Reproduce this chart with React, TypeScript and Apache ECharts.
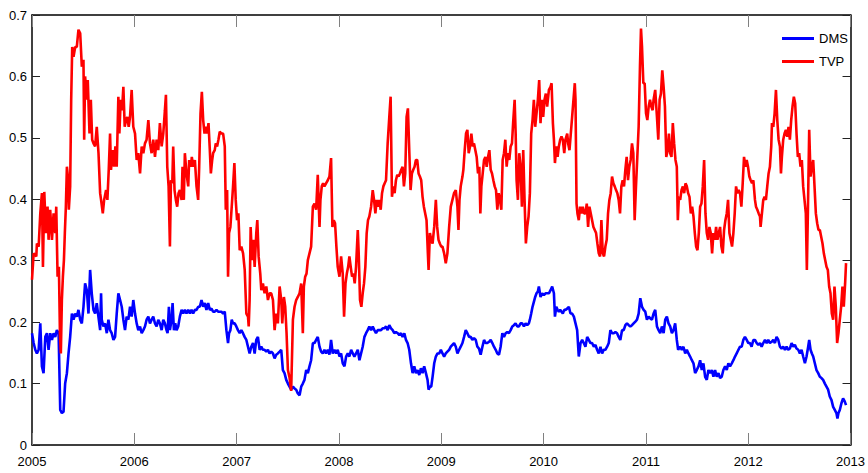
import React, { useEffect, useRef } from "react";
import * as echarts from "echarts";

const YEAR_TICKS = [2005, 2006, 2007, 2008, 2009, 2010, 2011, 2012, 2013];
const VALUE_TICKS = [0, 0.1, 0.2, 0.3, 0.4, 0.5, 0.6, 0.7];
const SERIES_NAMES = ["DMS", "TVP"];
const SERIES_COLORS = ["#0000ff", "#ff0000"];

const DMS: [number, number][] = [
  [2005.000,0.182],[2005.016,0.166],[2005.032,0.155],[2005.048,0.149],[2005.065,0.155],[2005.081,0.198],[2005.097,0.128],[2005.113,0.117],[2005.130,0.176],[2005.146,0.182],[2005.162,0.155],[2005.178,0.182],[2005.195,0.171],[2005.211,0.182],[2005.227,0.176],[2005.243,0.187],[2005.260,0.182],[2005.276,0.057],[2005.292,0.052],[2005.308,0.054],[2005.324,0.100],[2005.341,0.117],[2005.357,0.149],[2005.373,0.176],[2005.390,0.214],[2005.406,0.204],[2005.422,0.214],[2005.438,0.209],[2005.454,0.220],[2005.471,0.204],[2005.487,0.198],[2005.503,0.225],[2005.519,0.263],[2005.536,0.252],[2005.552,0.214],[2005.568,0.285],[2005.584,0.247],[2005.601,0.220],[2005.617,0.214],[2005.633,0.231],[2005.649,0.209],[2005.666,0.187],[2005.675,0.247],[2005.682,0.204],[2005.698,0.193],[2005.714,0.198],[2005.731,0.182],[2005.747,0.204],[2005.763,0.187],[2005.779,0.182],[2005.796,0.171],[2005.812,0.176],[2005.828,0.214],[2005.844,0.247],[2005.861,0.236],[2005.877,0.225],[2005.893,0.204],[2005.909,0.187],[2005.925,0.209],[2005.942,0.204],
  [2005.958,0.225],[2005.974,0.209],[2005.990,0.236],[2006.007,0.214],[2006.023,0.198],[2006.039,0.187],[2006.056,0.193],[2006.072,0.182],[2006.088,0.187],[2006.104,0.193],[2006.120,0.204],[2006.137,0.209],[2006.153,0.198],[2006.169,0.204],[2006.185,0.209],[2006.202,0.198],[2006.218,0.193],[2006.234,0.204],[2006.250,0.198],[2006.267,0.187],[2006.283,0.204],[2006.299,0.198],[2006.315,0.187],[2006.325,0.182],[2006.338,0.225],[2006.348,0.187],[2006.364,0.204],[2006.374,0.231],[2006.387,0.187],[2006.400,0.198],[2006.413,0.187],[2006.429,0.193],[2006.445,0.209],[2006.462,0.220],[2006.478,0.214],[2006.494,0.220],[2006.510,0.214],[2006.527,0.220],[2006.543,0.214],[2006.559,0.220],[2006.575,0.214],[2006.592,0.220],[2006.608,0.220],[2006.624,0.225],[2006.640,0.225],[2006.657,0.236],[2006.673,0.225],[2006.689,0.231],[2006.705,0.220],[2006.722,0.231],[2006.738,0.220],[2006.754,0.222],[2006.770,0.217],[2006.786,0.217],[2006.803,0.220],[2006.819,0.217],[2006.835,0.217],[2006.851,0.217],[2006.868,0.214],[2006.884,0.217],[2006.900,0.187],[2006.916,0.166],[2006.926,0.182],[2006.939,0.187],[2006.952,0.204],[2006.965,0.198],
  [2006.981,0.198],[2006.997,0.193],[2007.013,0.187],[2007.030,0.182],[2007.046,0.187],[2007.062,0.182],[2007.078,0.176],[2007.095,0.171],[2007.111,0.160],[2007.127,0.149],[2007.143,0.160],[2007.160,0.166],[2007.176,0.149],[2007.192,0.171],[2007.208,0.176],[2007.225,0.155],[2007.241,0.160],[2007.257,0.155],[2007.273,0.155],[2007.290,0.152],[2007.306,0.155],[2007.322,0.149],[2007.338,0.152],[2007.355,0.149],[2007.371,0.141],[2007.387,0.147],[2007.403,0.149],[2007.420,0.152],[2007.436,0.155],[2007.452,0.122],[2007.468,0.117],[2007.485,0.106],[2007.501,0.100],[2007.517,0.095],[2007.533,0.090],[2007.550,0.095],[2007.566,0.092],[2007.582,0.090],[2007.598,0.084],[2007.615,0.081],[2007.631,0.095],[2007.647,0.100],[2007.663,0.106],[2007.680,0.122],[2007.696,0.117],[2007.712,0.128],[2007.728,0.138],[2007.745,0.166],[2007.761,0.166],[2007.777,0.171],[2007.793,0.176],[2007.810,0.160],[2007.826,0.152],[2007.842,0.149],[2007.858,0.155],[2007.874,0.149],[2007.891,0.155],[2007.907,0.147],[2007.923,0.171],[2007.939,0.149],[2007.956,0.155],[2007.972,0.149],[2007.988,0.155],
  [2008.005,0.144],[2008.021,0.149],[2008.037,0.133],[2008.054,0.128],[2008.070,0.144],[2008.086,0.149],[2008.102,0.144],[2008.119,0.155],[2008.135,0.149],[2008.151,0.144],[2008.167,0.149],[2008.184,0.155],[2008.200,0.138],[2008.216,0.149],[2008.232,0.160],[2008.249,0.176],[2008.265,0.182],[2008.281,0.187],[2008.297,0.193],[2008.314,0.187],[2008.330,0.193],[2008.346,0.187],[2008.362,0.182],[2008.379,0.187],[2008.395,0.187],[2008.411,0.187],[2008.427,0.190],[2008.444,0.190],[2008.460,0.193],[2008.476,0.187],[2008.492,0.195],[2008.509,0.190],[2008.525,0.187],[2008.541,0.182],[2008.557,0.184],[2008.574,0.182],[2008.590,0.179],[2008.606,0.182],[2008.622,0.176],[2008.639,0.182],[2008.655,0.171],[2008.671,0.166],[2008.687,0.155],[2008.704,0.133],[2008.720,0.117],[2008.736,0.128],[2008.752,0.117],[2008.769,0.122],[2008.785,0.114],[2008.801,0.125],[2008.817,0.117],[2008.833,0.128],[2008.850,0.117],[2008.866,0.106],[2008.876,0.090],[2008.889,0.095],[2008.902,0.095],[2008.915,0.111],[2008.931,0.133],[2008.947,0.144],[2008.963,0.149],[2008.980,0.149],[2008.996,0.155],[2009.012,0.149],
  [2009.028,0.144],[2009.044,0.149],[2009.060,0.152],[2009.077,0.155],[2009.093,0.160],[2009.109,0.163],[2009.125,0.166],[2009.142,0.160],[2009.158,0.149],[2009.174,0.155],[2009.190,0.160],[2009.207,0.166],[2009.223,0.176],[2009.239,0.187],[2009.255,0.182],[2009.272,0.176],[2009.288,0.176],[2009.304,0.171],[2009.320,0.174],[2009.337,0.171],[2009.353,0.160],[2009.369,0.157],[2009.385,0.147],[2009.402,0.160],[2009.418,0.171],[2009.434,0.166],[2009.450,0.166],[2009.467,0.168],[2009.483,0.171],[2009.499,0.166],[2009.515,0.160],[2009.532,0.155],[2009.548,0.149],[2009.564,0.147],[2009.580,0.160],[2009.597,0.182],[2009.613,0.176],[2009.629,0.182],[2009.645,0.184],[2009.661,0.182],[2009.678,0.187],[2009.694,0.193],[2009.710,0.195],[2009.726,0.198],[2009.743,0.193],[2009.759,0.193],[2009.775,0.198],[2009.791,0.198],[2009.808,0.193],[2009.824,0.198],[2009.840,0.195],[2009.856,0.198],[2009.866,0.204],[2009.879,0.214],[2009.892,0.225],[2009.905,0.233],[2009.918,0.241],[2009.931,0.247],[2009.944,0.250],[2009.954,0.258],[2009.970,0.241],[2009.986,0.247],[2010.003,0.244],[2010.019,0.247],[2010.035,0.247],
  [2010.052,0.247],[2010.068,0.252],[2010.084,0.258],[2010.101,0.247],[2010.111,0.209],[2010.124,0.225],[2010.137,0.220],[2010.149,0.217],[2010.162,0.220],[2010.175,0.217],[2010.188,0.214],[2010.202,0.220],[2010.214,0.220],[2010.231,0.222],[2010.247,0.225],[2010.263,0.214],[2010.279,0.214],[2010.296,0.209],[2010.312,0.198],[2010.328,0.187],[2010.344,0.144],[2010.361,0.166],[2010.377,0.171],[2010.393,0.166],[2010.409,0.160],[2010.426,0.176],[2010.442,0.171],[2010.458,0.166],[2010.474,0.166],[2010.491,0.160],[2010.507,0.163],[2010.523,0.155],[2010.539,0.149],[2010.556,0.160],[2010.572,0.149],[2010.588,0.155],[2010.604,0.155],[2010.621,0.160],[2010.637,0.166],[2010.653,0.187],[2010.669,0.182],[2010.686,0.182],[2010.702,0.184],[2010.718,0.182],[2010.734,0.176],[2010.750,0.171],[2010.767,0.187],[2010.783,0.187],[2010.799,0.195],[2010.815,0.198],[2010.832,0.195],[2010.848,0.193],[2010.864,0.195],[2010.880,0.198],[2010.897,0.201],[2010.913,0.204],[2010.929,0.214],[2010.945,0.239],[2010.962,0.225],[2010.978,0.220],[2010.994,0.217],[2011.010,0.204],[2011.027,0.209],[2011.043,0.206],[2011.059,0.204],
  [2011.075,0.214],[2011.091,0.220],[2011.108,0.193],[2011.124,0.187],[2011.140,0.182],[2011.156,0.193],[2011.173,0.182],[2011.189,0.204],[2011.205,0.209],[2011.221,0.198],[2011.237,0.193],[2011.254,0.182],[2011.270,0.187],[2011.286,0.198],[2011.302,0.171],[2011.315,0.155],[2011.335,0.160],[2011.351,0.155],[2011.367,0.160],[2011.384,0.149],[2011.400,0.155],[2011.416,0.149],[2011.432,0.144],[2011.449,0.138],[2011.465,0.133],[2011.481,0.117],[2011.497,0.122],[2011.514,0.128],[2011.530,0.138],[2011.546,0.122],[2011.562,0.133],[2011.579,0.111],[2011.595,0.106],[2011.611,0.122],[2011.627,0.117],[2011.644,0.122],[2011.660,0.111],[2011.676,0.122],[2011.692,0.111],[2011.709,0.117],[2011.725,0.109],[2011.741,0.111],[2011.757,0.122],[2011.774,0.128],[2011.790,0.122],[2011.806,0.133],[2011.822,0.128],[2011.839,0.133],[2011.855,0.138],[2011.871,0.144],[2011.887,0.149],[2011.904,0.155],[2011.920,0.160],[2011.936,0.160],[2011.952,0.171],[2011.968,0.176],[2011.985,0.171],[2012.001,0.166],[2012.017,0.166],[2012.033,0.160],
  [2012.050,0.171],[2012.066,0.171],[2012.083,0.166],[2012.099,0.163],[2012.115,0.166],[2012.131,0.160],[2012.147,0.166],[2012.164,0.171],[2012.180,0.166],[2012.196,0.171],[2012.212,0.166],[2012.229,0.168],[2012.245,0.171],[2012.261,0.166],[2012.277,0.176],[2012.294,0.171],[2012.310,0.160],[2012.326,0.157],[2012.342,0.160],[2012.359,0.155],[2012.375,0.160],[2012.391,0.155],[2012.407,0.157],[2012.424,0.166],[2012.440,0.160],[2012.456,0.163],[2012.472,0.157],[2012.489,0.155],[2012.505,0.149],[2012.521,0.155],[2012.537,0.144],[2012.554,0.133],[2012.570,0.144],[2012.586,0.160],[2012.596,0.171],[2012.609,0.155],[2012.622,0.149],[2012.635,0.144],[2012.651,0.133],[2012.667,0.122],[2012.684,0.117],[2012.700,0.111],[2012.716,0.109],[2012.732,0.106],[2012.749,0.100],[2012.765,0.095],[2012.781,0.090],[2012.797,0.079],[2012.814,0.073],[2012.830,0.062],[2012.846,0.057],[2012.862,0.052],[2012.872,0.043],[2012.882,0.052],[2012.895,0.057],[2012.911,0.068],[2012.927,0.076],[2012.943,0.071],[2012.956,0.065],
];

const TVP: [number, number][] = [
  [2005.000,0.269],[2005.016,0.312],[2005.032,0.309],[2005.042,0.307],[2005.048,0.328],[2005.065,0.323],[2005.081,0.377],[2005.097,0.410],[2005.107,0.290],[2005.120,0.412],[2005.136,0.345],[2005.152,0.388],[2005.162,0.334],[2005.178,0.383],[2005.195,0.334],[2005.211,0.377],[2005.227,0.345],[2005.237,0.388],[2005.250,0.274],[2005.263,0.290],[2005.273,0.182],[2005.282,0.149],[2005.292,0.236],[2005.302,0.274],[2005.312,0.301],[2005.321,0.345],[2005.331,0.388],[2005.341,0.453],[2005.351,0.437],[2005.360,0.383],[2005.373,0.421],[2005.383,0.562],[2005.393,0.648],[2005.406,0.632],[2005.422,0.648],[2005.438,0.648],[2005.454,0.676],[2005.471,0.670],[2005.487,0.616],[2005.503,0.627],[2005.510,0.497],[2005.519,0.600],[2005.536,0.562],[2005.545,0.594],[2005.562,0.507],[2005.575,0.562],[2005.588,0.497],[2005.601,0.491],[2005.617,0.486],[2005.633,0.518],[2005.650,0.475],[2005.666,0.410],[2005.675,0.399],[2005.692,0.377],[2005.705,0.399],[2005.724,0.415],[2005.737,0.399],[2005.750,0.448],[2005.763,0.507],[2005.772,0.448],[2005.789,0.480],[2005.802,0.453],[2005.815,0.486],[2005.828,0.453],[2005.844,0.567],[2005.854,0.507],[2005.867,0.562],[2005.880,0.545],[2005.893,0.583],[2005.906,0.518],[2005.919,0.529],[2005.932,0.534],[2005.945,0.518],
  [2005.958,0.534],[2005.974,0.578],[2005.990,0.518],[2006.007,0.507],[2006.023,0.464],[2006.039,0.475],[2006.056,0.442],[2006.072,0.486],[2006.088,0.475],[2006.104,0.491],[2006.120,0.497],[2006.137,0.529],[2006.153,0.491],[2006.169,0.475],[2006.185,0.497],[2006.202,0.469],[2006.218,0.497],[2006.234,0.480],[2006.250,0.524],[2006.267,0.486],[2006.283,0.507],[2006.299,0.545],[2006.309,0.570],[2006.322,0.453],[2006.335,0.421],[2006.348,0.323],[2006.358,0.431],[2006.371,0.426],[2006.380,0.486],[2006.393,0.415],[2006.406,0.399],[2006.419,0.388],[2006.432,0.410],[2006.445,0.415],[2006.462,0.399],[2006.471,0.453],[2006.484,0.399],[2006.494,0.475],[2006.510,0.442],[2006.527,0.421],[2006.536,0.464],[2006.553,0.453],[2006.562,0.469],[2006.575,0.453],[2006.592,0.464],[2006.608,0.421],[2006.624,0.399],[2006.634,0.453],[2006.647,0.540],[2006.660,0.575],[2006.673,0.529],[2006.686,0.507],[2006.699,0.518],[2006.712,0.507],[2006.725,0.524],[2006.738,0.480],[2006.748,0.442],[2006.761,0.464],[2006.770,0.475],[2006.786,0.480],[2006.796,0.491],[2006.809,0.486],[2006.822,0.497],[2006.835,0.510],[2006.851,0.507],[2006.868,0.507],[2006.884,0.486],[2006.894,0.383],[2006.907,0.415],[2006.916,0.274],[2006.926,0.345],[2006.939,0.355],[2006.952,0.388],[2006.965,0.421],[2006.978,0.459],[2006.991,0.399],[2007.004,0.366],[2007.017,0.377],[2007.030,0.317],[2007.046,0.323],[2007.063,0.312],[2007.079,0.285],[2007.095,0.214],[2007.111,0.209],
  [2007.118,0.193],[2007.127,0.236],[2007.137,0.355],[2007.150,0.301],[2007.163,0.334],[2007.176,0.290],[2007.192,0.345],[2007.202,0.366],[2007.215,0.307],[2007.231,0.279],[2007.241,0.252],[2007.257,0.263],[2007.273,0.247],[2007.290,0.258],[2007.306,0.236],[2007.322,0.247],[2007.338,0.247],[2007.355,0.236],[2007.371,0.187],[2007.387,0.214],[2007.403,0.198],[2007.420,0.258],[2007.436,0.236],[2007.446,0.198],[2007.462,0.241],[2007.475,0.225],[2007.488,0.182],[2007.501,0.122],[2007.517,0.110],[2007.533,0.088],[2007.550,0.204],[2007.566,0.225],[2007.582,0.236],[2007.598,0.241],[2007.615,0.247],[2007.631,0.263],[2007.647,0.182],[2007.657,0.258],[2007.670,0.274],[2007.683,0.279],[2007.696,0.301],[2007.712,0.312],[2007.728,0.323],[2007.745,0.388],[2007.761,0.393],[2007.777,0.383],[2007.793,0.440],[2007.810,0.355],[2007.819,0.399],[2007.832,0.421],[2007.845,0.426],[2007.858,0.421],[2007.874,0.426],[2007.891,0.431],[2007.907,0.437],[2007.923,0.467],[2007.936,0.355],[2007.949,0.366],[2007.962,0.361],[2007.975,0.323],[2007.988,0.290],
  [2008.005,0.274],[2008.021,0.307],[2008.037,0.279],[2008.050,0.209],[2008.064,0.263],[2008.077,0.279],[2008.090,0.290],[2008.102,0.307],[2008.115,0.290],[2008.128,0.274],[2008.141,0.279],[2008.154,0.263],[2008.167,0.290],[2008.184,0.350],[2008.193,0.312],[2008.206,0.236],[2008.219,0.225],[2008.232,0.247],[2008.245,0.263],[2008.258,0.290],[2008.271,0.345],[2008.284,0.366],[2008.297,0.372],[2008.314,0.388],[2008.330,0.415],[2008.343,0.399],[2008.356,0.377],[2008.369,0.399],[2008.382,0.388],[2008.395,0.399],[2008.408,0.383],[2008.421,0.410],[2008.434,0.421],[2008.447,0.426],[2008.460,0.431],[2008.476,0.491],[2008.492,0.534],[2008.505,0.567],[2008.518,0.404],[2008.531,0.421],[2008.544,0.410],[2008.557,0.431],[2008.570,0.440],[2008.583,0.437],[2008.596,0.442],[2008.609,0.448],[2008.622,0.453],[2008.635,0.421],[2008.648,0.442],[2008.661,0.534],[2008.674,0.548],[2008.687,0.480],[2008.700,0.415],[2008.713,0.442],[2008.726,0.448],[2008.739,0.453],[2008.752,0.464],[2008.765,0.464],[2008.778,0.442],[2008.791,0.437],[2008.804,0.431],[2008.817,0.404],[2008.830,0.388],[2008.843,0.377],[2008.856,0.366],[2008.869,0.312],[2008.876,0.285],[2008.889,0.345],[2008.902,0.334],[2008.915,0.328],[2008.931,0.355],[2008.947,0.399],[2008.960,0.355],[2008.973,0.334],[2008.986,0.328],[2008.999,0.323],[2009.012,0.323],
  [2009.028,0.312],[2009.044,0.296],[2009.060,0.312],[2009.077,0.355],[2009.093,0.388],[2009.109,0.399],[2009.125,0.410],[2009.142,0.415],[2009.158,0.388],[2009.168,0.350],[2009.178,0.399],[2009.190,0.421],[2009.207,0.437],[2009.216,0.448],[2009.229,0.480],[2009.242,0.507],[2009.255,0.513],[2009.268,0.475],[2009.281,0.486],[2009.294,0.507],[2009.307,0.486],[2009.320,0.491],[2009.333,0.480],[2009.346,0.469],[2009.359,0.442],[2009.372,0.453],[2009.382,0.377],[2009.392,0.421],[2009.405,0.442],[2009.418,0.464],[2009.431,0.469],[2009.444,0.453],[2009.457,0.469],[2009.470,0.480],[2009.483,0.448],[2009.496,0.442],[2009.509,0.431],[2009.522,0.421],[2009.535,0.415],[2009.548,0.383],[2009.561,0.410],[2009.574,0.399],[2009.587,0.383],[2009.600,0.464],[2009.613,0.475],[2009.626,0.497],[2009.639,0.453],[2009.652,0.475],[2009.665,0.464],[2009.678,0.486],[2009.691,0.491],[2009.704,0.529],[2009.717,0.562],[2009.727,0.507],[2009.736,0.431],[2009.749,0.399],[2009.762,0.475],[2009.775,0.453],[2009.788,0.388],[2009.801,0.480],[2009.814,0.399],[2009.827,0.328],[2009.840,0.355],[2009.853,0.372],[2009.866,0.410],[2009.879,0.507],[2009.892,0.529],[2009.905,0.562],[2009.918,0.518],[2009.931,0.540],[2009.944,0.562],[2009.957,0.594],[2009.970,0.524],[2009.983,0.562],[2009.996,0.534],[2010.009,0.562],[2010.022,0.572],[2010.035,0.551],
  [2010.052,0.578],[2010.068,0.583],[2010.078,0.589],[2010.091,0.524],[2010.101,0.497],[2010.111,0.459],[2010.124,0.486],[2010.137,0.469],[2010.149,0.486],[2010.162,0.497],[2010.175,0.502],[2010.188,0.497],[2010.202,0.475],[2010.214,0.497],[2010.231,0.507],[2010.240,0.491],[2010.253,0.480],[2010.266,0.507],[2010.279,0.534],[2010.292,0.562],[2010.305,0.589],[2010.312,0.562],[2010.322,0.393],[2010.331,0.377],[2010.344,0.366],[2010.357,0.388],[2010.370,0.377],[2010.383,0.388],[2010.396,0.377],[2010.409,0.377],[2010.422,0.393],[2010.435,0.355],[2010.448,0.388],[2010.461,0.377],[2010.474,0.366],[2010.487,0.355],[2010.500,0.350],[2010.513,0.345],[2010.526,0.328],[2010.539,0.312],[2010.552,0.307],[2010.565,0.366],[2010.578,0.312],[2010.591,0.307],[2010.604,0.323],[2010.617,0.334],[2010.630,0.377],[2010.643,0.399],[2010.656,0.410],[2010.669,0.437],[2010.682,0.426],[2010.695,0.421],[2010.708,0.415],[2010.721,0.410],[2010.734,0.399],[2010.747,0.377],[2010.760,0.421],[2010.773,0.431],[2010.786,0.421],[2010.799,0.448],[2010.812,0.469],[2010.825,0.431],[2010.838,0.453],[2010.851,0.464],[2010.864,0.491],[2010.877,0.475],[2010.890,0.366],[2010.903,0.421],[2010.916,0.469],[2010.929,0.518],[2010.942,0.616],[2010.952,0.678],[2010.962,0.648],[2010.975,0.589],[2010.988,0.589],[2011.001,0.540],[2011.014,0.529],[2011.027,0.551],[2011.040,0.562],[2011.053,0.551],[2011.066,0.545],
  [2011.075,0.562],[2011.091,0.578],[2011.108,0.534],[2011.121,0.497],[2011.134,0.562],[2011.147,0.572],[2011.160,0.610],[2011.173,0.583],[2011.186,0.551],[2011.199,0.469],[2011.212,0.480],[2011.225,0.507],[2011.237,0.475],[2011.250,0.469],[2011.263,0.524],[2011.276,0.491],[2011.289,0.464],[2011.302,0.453],[2011.312,0.366],[2011.322,0.404],[2011.335,0.399],[2011.348,0.415],[2011.361,0.421],[2011.374,0.410],[2011.387,0.426],[2011.400,0.421],[2011.413,0.410],[2011.426,0.404],[2011.439,0.377],[2011.452,0.388],[2011.465,0.372],[2011.478,0.345],[2011.491,0.323],[2011.504,0.317],[2011.517,0.345],[2011.530,0.388],[2011.543,0.393],[2011.556,0.421],[2011.569,0.464],[2011.582,0.377],[2011.595,0.345],[2011.608,0.334],[2011.621,0.355],[2011.634,0.345],[2011.647,0.312],[2011.660,0.345],[2011.673,0.334],[2011.686,0.355],[2011.699,0.334],[2011.712,0.345],[2011.725,0.355],[2011.738,0.323],[2011.751,0.312],[2011.764,0.350],[2011.777,0.366],[2011.790,0.377],[2011.803,0.399],[2011.816,0.345],[2011.829,0.334],[2011.842,0.323],[2011.855,0.345],[2011.868,0.377],[2011.881,0.421],[2011.894,0.410],[2011.907,0.415],[2011.920,0.410],[2011.933,0.388],[2011.946,0.426],[2011.959,0.469],[2011.972,0.453],[2011.985,0.464],[2011.998,0.453],[2012.011,0.437],[2012.024,0.431],[2012.037,0.426],
  [2012.050,0.431],[2012.066,0.399],[2012.076,0.388],[2012.089,0.383],[2012.102,0.377],[2012.115,0.372],[2012.121,0.355],[2012.134,0.377],[2012.147,0.399],[2012.160,0.404],[2012.173,0.399],[2012.186,0.421],[2012.199,0.442],[2012.212,0.453],[2012.225,0.486],[2012.232,0.524],[2012.245,0.518],[2012.258,0.540],[2012.271,0.578],[2012.284,0.529],[2012.297,0.497],[2012.310,0.486],[2012.320,0.442],[2012.329,0.469],[2012.342,0.497],[2012.355,0.507],[2012.368,0.513],[2012.381,0.502],[2012.394,0.518],[2012.407,0.497],[2012.420,0.529],[2012.433,0.551],[2012.446,0.567],[2012.459,0.556],[2012.472,0.507],[2012.485,0.469],[2012.498,0.475],[2012.511,0.453],[2012.524,0.464],[2012.537,0.421],[2012.550,0.399],[2012.563,0.377],[2012.573,0.285],[2012.583,0.377],[2012.596,0.513],[2012.609,0.437],[2012.622,0.453],[2012.635,0.464],[2012.648,0.421],[2012.661,0.377],[2012.674,0.361],[2012.687,0.350],[2012.700,0.350],[2012.713,0.339],[2012.726,0.328],[2012.739,0.312],[2012.752,0.301],[2012.765,0.290],[2012.778,0.285],[2012.791,0.258],[2012.804,0.247],[2012.817,0.214],[2012.830,0.204],[2012.843,0.258],[2012.856,0.225],[2012.869,0.166],[2012.882,0.182],[2012.895,0.204],[2012.908,0.225],[2012.921,0.258],[2012.934,0.225],[2012.947,0.263],[2012.956,0.296],
];

const FONT = "'Liberation Sans Narrow', 'Arial Narrow', 'Liberation Sans', Arial, sans-serif";

export default function App() {
  const ref = useRef<HTMLDivElement>(null);

  useEffect(() => {
    document.body.style.margin = "0";
    if (!ref.current) return;
    const chart = echarts.init(ref.current, null, { renderer: "svg" });

    const xMin = YEAR_TICKS[0];
    const xMax = YEAR_TICKS[YEAR_TICKS.length - 1];
    const yMin = VALUE_TICKS[0];
    const yMax = VALUE_TICKS[VALUE_TICKS.length - 1];

    const axisLine = { show: true, onZero: false, lineStyle: { color: "#000", width: 1.5 } };

    const xBase = {
      type: "value",
      min: xMin,
      max: xMax,
      interval: 1,
      axisLine,
      splitLine: { show: false },
      axisTick: { show: true, inside: true, length: 12, lineStyle: { color: "#808080", width: 1 } },
    };
    const yBase = {
      type: "value",
      min: yMin,
      max: yMax,
      interval: 0.1,
      axisLine,
      splitLine: { show: false },
      axisTick: { show: true, inside: true, length: 8, lineStyle: { color: "#222", width: 1 } },
    };

    chart.setOption({
      animation: false,
      backgroundColor: "#ffffff",
      grid: { left: 32, right: 15.5, top: 15, bottom: 28, containLabel: false },
      legend: {
        data: SERIES_NAMES,
        orient: "vertical",
        left: 782,
        top: 32,
        padding: 0,
        itemWidth: 32,
        itemHeight: 3,
        itemGap: 10,
        icon: "rect",
        textStyle: { fontFamily: FONT, fontSize: 13, color: "#000" },
      },
      xAxis: [
        {
          ...xBase,
          position: "bottom",
          axisLabel: {
            show: true,
            color: "#000",
            fontFamily: FONT,
            fontSize: 13,
            margin: 10,
            formatter: (v: number) => String(Math.round(v)),
          },
        },
        { ...xBase, position: "top", axisLabel: { show: false } },
      ],
      yAxis: [
        {
          ...yBase,
          position: "left",
          axisLabel: {
            show: true,
            color: "#000",
            fontFamily: FONT,
            fontSize: 13,
            margin: 5,
            formatter: (v: number) => (Math.abs(v) < 1e-9 ? "0" : v.toFixed(1)),
          },
        },
        { ...yBase, position: "right", axisLabel: { show: false } },
      ],
      series: [
        {
          name: SERIES_NAMES[0],
          type: "line",
          data: DMS,
          showSymbol: false,
          symbol: "none",
          color: SERIES_COLORS[0],
          lineStyle: { color: SERIES_COLORS[0], width: 2.6 },
          emphasis: { disabled: true },
          xAxisIndex: 0,
          yAxisIndex: 0,
        },
        {
          name: SERIES_NAMES[1],
          type: "line",
          data: TVP,
          showSymbol: false,
          symbol: "none",
          color: SERIES_COLORS[1],
          lineStyle: { color: SERIES_COLORS[1], width: 2.6 },
          emphasis: { disabled: true },
          xAxisIndex: 0,
          yAxisIndex: 0,
        },
      ],
    });

    return () => chart.dispose();
  }, []);

  return <div ref={ref} style={{ width: 868, height: 473 }} />;
}
